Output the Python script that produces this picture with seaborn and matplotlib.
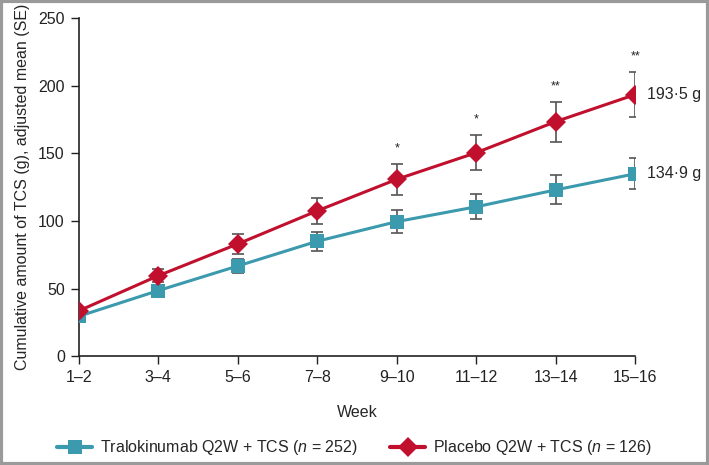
import numpy as np
import pandas as pd
import matplotlib
matplotlib.use("Agg")
import matplotlib.pyplot as plt
import seaborn as sns
from matplotlib.lines import Line2D

# values
weeks = ["1\u20132", "3\u20134", "5\u20136", "7\u20138", "9\u201310", "11\u201312", "13\u201314", "15\u201316"]
tralo_mean = [29.5, 48.5, 66.7, 85.0, 99.5, 110.5, 123.0, 134.9]
tralo_se = [2.0, 3.5, 5.3, 7.0, 8.5, 9.3, 10.8, 11.5]
placebo_mean = [33.5, 59.5, 83.0, 107.5, 130.8, 150.5, 173.5, 193.5]
placebo_se = [2.5, 5.0, 7.6, 9.5, 11.4, 13.0, 14.8, 16.4]
stars = ["", "", "", "", "*", "*", "**", "**"]
end_labels = ["134\u00b79 g", "193\u00b75 g"]
series_names = ["Tralokinumab Q2W + TCS ($\\it{n}$ = 252)", "Placebo Q2W + TCS ($\\it{n}$ = 126)"]

teal = "#3b9aad"
red = "#c0102e"

sns.set_style("ticks")
plt.rcParams['font.family'] = ['Liberation Sans', 'DejaVu Sans']
plt.rcParams['mathtext.fontset'] = 'custom'
plt.rcParams['mathtext.it'] = 'Liberation Sans:italic'
plt.rcParams['mathtext.rm'] = 'Liberation Sans'

x = np.arange(len(weeks))
df = pd.DataFrame({
    "x": np.concatenate([x, x]),
    "mean": tralo_mean + placebo_mean,
    "group": [series_names[0]] * len(x) + [series_names[1]] * len(x),
})

fig = plt.figure(figsize=(7.09, 4.65), dpi=100)
ax = fig.add_axes([0.111, 0.234, 0.785, 0.727])

# error bars first so markers sit on top
ax.errorbar(x, tralo_mean, yerr=tralo_se, fmt="none", ecolor="#555555",
            elinewidth=1.2, capsize=4, capthick=1.2, zorder=2)
ax.errorbar(x, placebo_mean, yerr=placebo_se, fmt="none", ecolor="#555555",
            elinewidth=1.2, capsize=4, capthick=1.2, zorder=2)

sns.lineplot(data=df, x="x", y="mean", hue="group", style="group",
             markers={series_names[0]: "s", series_names[1]: "D"},
             dashes=False, palette=[teal, red], linewidth=2.2,
             markersize=10, markeredgewidth=0, ax=ax, zorder=3, legend=False)

# significance stars above placebo error bars
for i, s in enumerate(stars):
    if s:
        ax.text(x[i], placebo_mean[i] + placebo_se[i] + 7, s, ha="center",
                va="bottom", fontsize=9, color="#222222")

ax.text(x[-1] + 0.15, tralo_mean[-1], end_labels[0], va="center", fontsize=11.5)
ax.text(x[-1] + 0.15, placebo_mean[-1], end_labels[1], va="center", fontsize=11.5)

ax.set_xlim(0, 7)
ax.set_ylim(0, 250)
ax.set_yticks([0, 50, 100, 150, 200, 250])
ax.set_xticks(x)
ax.set_xticklabels(weeks)
ax.tick_params(labelsize=11.5, length=6, width=1, colors="#222222", pad=4)
ax.set_xlabel("Week", fontsize=11.5, labelpad=14)
ax.set_ylabel("Cumulative amount of TCS (g), adjusted mean (SE)", fontsize=11.5, labelpad=6)
for sp in ["top", "right"]:
    ax.spines[sp].set_visible(False)
for sp in ["left", "bottom"]:
    ax.spines[sp].set_linewidth(1.2)
    ax.spines[sp].set_color("#222222")
ax.spines["left"].set_bounds(0, 250)
ax.spines["bottom"].set_bounds(0, 7)
ax.patch.set_alpha(0)

# legend
handles = [
    Line2D([], [], color=teal, marker="s", markersize=10, linewidth=3, markeredgewidth=0),
    Line2D([], [], color=red, marker="D", markersize=10, linewidth=3, markeredgewidth=0),
]
fig.legend(handles, series_names, loc="center", bbox_to_anchor=(0.5, 0.037),
           ncol=2, frameon=False, fontsize=11.5, handlelength=2.2,
           handletextpad=0.5, columnspacing=2.0)

# grey frame around the figure
fig.patches.append(plt.Rectangle((0.002, 0.003), 0.996, 0.994, transform=fig.transFigure,
                                 fill=False, edgecolor="#9a9a9a", linewidth=3))

fig.savefig("out.png", dpi=100)
